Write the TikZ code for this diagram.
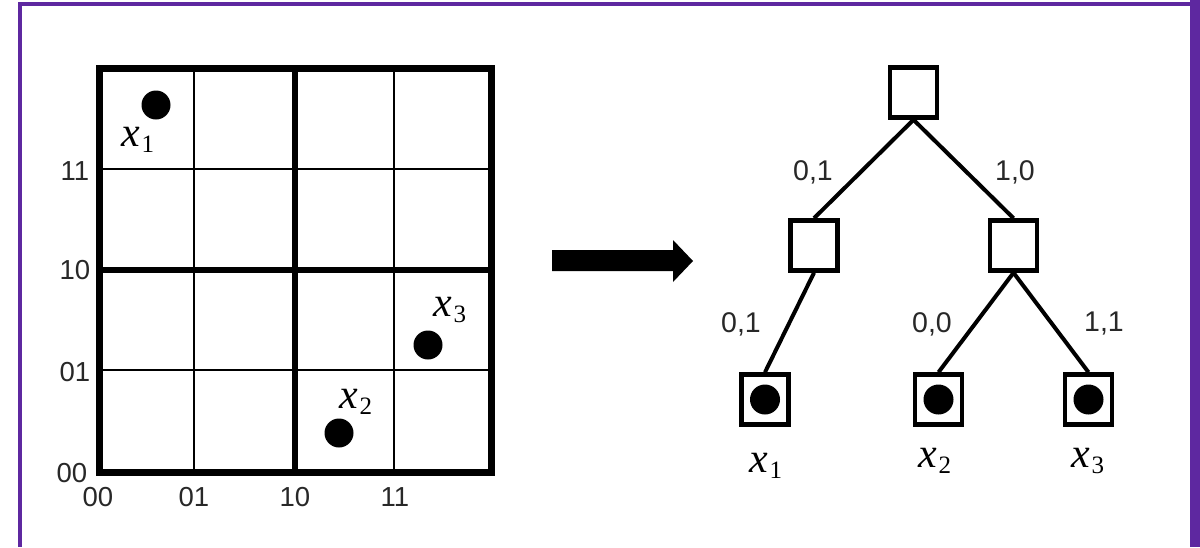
\documentclass[tikz,border=0pt]{standalone}
\usepackage{fontspec}
\setmainfont{Liberation Sans}
\newfontfamily\serifx{Liberation Serif}
\definecolor{framepurple}{RGB}{94,40,160}
\definecolor{labelgray}{RGB}{40,40,40}
% italic x with an upright subscript
\newcommand\xsub[1]{{\serifx\fontsize{42}{42}\selectfont\itshape x}\kern1pt\raisebox{-6pt}{\serifx\fontsize{25}{25}\selectfont #1}}
\tikzset{
  axislbl/.style={text=labelgray, font=\fontsize{27.5}{27.5}\selectfont, inner sep=0pt},
  edgelbl/.style={text=labelgray, font=\fontsize{28.5}{28.5}\selectfont, inner sep=0pt},
  ptlbl/.style={inner sep=0pt},
  tbox/.style={draw=black, line width=4.5pt, minimum width=47pt, minimum height=50pt, inner sep=0pt, fill=white},
  treeedge/.style={line width=4pt},
  thinline/.style={line width=2pt},
  thickline/.style={line width=6.5pt, line cap=rect},
}
\begin{document}
\begin{tikzpicture}[x=1pt, y=-1pt]
  \useasboundingbox (0,0) rectangle (1200,547);
  \fill[white] (0,0) rectangle (1200,547);
  % purple frame
  \fill[framepurple] (18,2) rectangle (1200,6);
  \fill[framepurple] (18,2) rectangle (22,547);
  \fill[framepurple] (1190,0) rectangle (1200,547);

  % ---- grid ----
  \foreach \gx in {194,394} \draw[thinline] (\gx,68) -- (\gx,472);
  \foreach \gy in {168.5,370} \draw[thinline] (99,\gy) -- (491,\gy);
  \draw[thickline] (295,68) -- (295,472);
  \draw[thickline] (99,270) -- (491,270);
  \draw[line width=7pt] (99,68) rectangle (491,472);

  % axis labels
  \node[axislbl] (y11) at (75,171) {11};
  \node[axislbl] (y10) at (75,270) {10};
  \node[axislbl] (y01) at (75,372) {01};
  \node[axislbl] (y00) at (72,473) {00};
  \node[axislbl] (x00) at (98,497) {00};
  \node[axislbl] (x01) at (194,497) {01};
  \node[axislbl] (x10) at (295,497) {10};
  \node[axislbl] (x11) at (395,497) {11};

  % points
  \fill (156,105) circle (14.5);
  \fill (339,433) circle (14.5);
  \fill (428,345) circle (14.5);
  \node[ptlbl] (p1) at (138,140) {\xsub{1}};
  \node[ptlbl] (p2) at (356,402) {\xsub{2}};
  \node[ptlbl] (p3) at (450,310) {\xsub{3}};

  % ---- big arrow ----
  \fill (552,250) -- (673,250) -- (673,240) -- (693,261) -- (673,282) -- (673,271) -- (552,271) -- cycle;

  % ---- tree ----
  \node[tbox] (root) at (913.5,92.5) {};
  \node[tbox] (ml) at (814,245.5) {};
  \node[tbox] (mr) at (1013.5,245.5) {};
  \node[tbox] (l1) at (765,399.5) {};
  \node[tbox] (l2) at (938.5,399.5) {};
  \node[tbox] (l3) at (1088.5,399.5) {};
  \foreach \lf in {l1,l2,l3} \fill (\lf.center) circle (15);

  \draw[treeedge] (root.south) -- (ml.north);
  \draw[treeedge] (root.south) -- (mr.north);
  \draw[treeedge] (ml.south) -- (l1.north);
  \draw[treeedge] (mr.south) -- (l2.north);
  \draw[treeedge] (mr.south) -- (l3.north);

  \node[edgelbl] (e1) at (813,172) {0,1};
  \node[edgelbl] (e2) at (1015,172) {1,0};
  \node[edgelbl] (e3) at (741,324) {0,1};
  \node[edgelbl] (e4) at (932,324) {0,0};
  \node[edgelbl] (e5) at (1104,324) {1,1};

  \node[ptlbl] (t1) at (766,466) {\xsub{1}};
  \node[ptlbl] (t2) at (935,461) {\xsub{2}};
  \node[ptlbl] (t3) at (1088,461) {\xsub{3}};
\end{tikzpicture}
\end{document}
